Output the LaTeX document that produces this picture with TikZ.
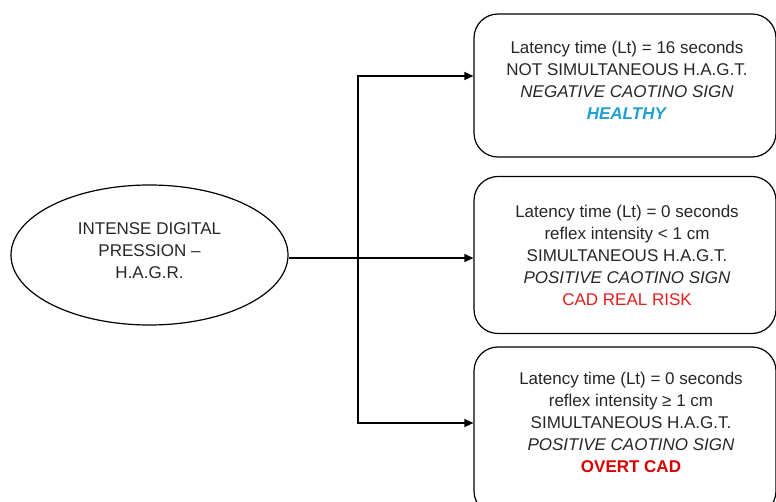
\documentclass[tikz,border=0pt]{standalone}
\usepackage{fontspec}
\setmainfont{Liberation Sans}
\usetikzlibrary{shapes.geometric,arrows.meta}
\definecolor{healthy}{RGB}{30,160,210}
\definecolor{riskred}{RGB}{225,30,30}
\definecolor{overtred}{RGB}{215,0,0}
\begin{document}
\begin{tikzpicture}[x=1pt,y=-1pt,
  every node/.style={font=\fontsize{17}{22}\selectfont, text=black!85, align=center, inner sep=0pt},
  outbox/.style={draw, line width=1.2pt, rounded corners=24pt, minimum width=302pt},
  startell/.style={draw, line width=1.2pt, ellipse, minimum width=277pt, minimum height=140pt},
  conn/.style={line width=1.2pt, -{Triangle[length=9pt,width=8pt]}}]
\clip (0,0) rectangle (776,502);
\node[startell] (ell) at (149.5,255) {};
\node (te) at (149.5,251) {INTENSE DIGITAL\\PRESSION --\\H.A.G.R.};
\node[outbox, minimum height=143pt] (b1) at (625,85.5) {};
\node[outbox, minimum height=157pt] (b2) at (625,255) {};
\node[outbox, minimum height=168pt] (b3) at (625,431) {};
\node (t1) at (627,80) {Latency time (Lt) = 16 seconds\\NOT SIMULTANEOUS H.A.G.T.\\\textit{NEGATIVE CAOTINO SIGN}\\\textcolor{healthy}{\textbf{\textit{HEALTHY}}}};
\node (t2) at (627,255) {Latency time (Lt) = 0 seconds\\reflex intensity < 1 cm\\SIMULTANEOUS H.A.G.T.\\\textit{POSITIVE CAOTINO SIGN}\\\textcolor{riskred}{CAD REAL RISK}};
\node (t3) at (631,422) {Latency time (Lt) = 0 seconds\\reflex intensity ≥ 1 cm\\SIMULTANEOUS H.A.G.T.\\\textit{POSITIVE CAOTINO SIGN}\\\textcolor{overtred}{\textbf{OVERT CAD}}};
\coordinate (j) at (358,258);
\coordinate (a1) at (0,76);
\coordinate (a3) at (0,423);
\draw[conn] (ell.east |- j) -- (b2.west |- j);
\draw[conn] (j) |- (b1.west |- a1);
\draw[conn] (j) |- (b3.west |- a3);
\end{tikzpicture}
\end{document}
